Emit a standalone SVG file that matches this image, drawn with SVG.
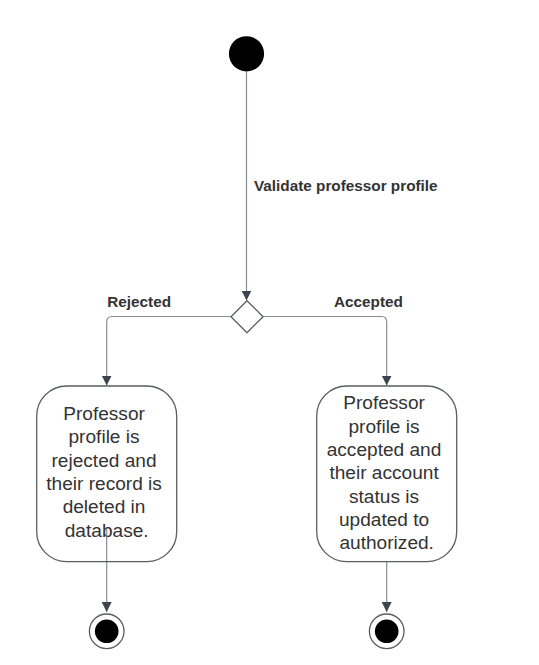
<svg xmlns="http://www.w3.org/2000/svg" width="539" height="665" viewBox="0 0 539 665">
  <style>
    .edge { fill: none; stroke: #8a8d93; stroke-width: 1.2; }
    .shape { fill: #ffffff; stroke: #5b5e63; stroke-width: 1.3; }
    .body { font-family: "Liberation Sans", Arial, sans-serif; font-size: 19.1px; fill: #333333; text-anchor: middle; }
    .label { font-family: "Liberation Sans", Arial, sans-serif; font-size: 15.3px; font-weight: bold; fill: #333333; }
  </style>
  <defs>
    <marker id="arrow" viewBox="0 0 10 14" refX="10" refY="7" markerWidth="10" markerHeight="14" markerUnits="userSpaceOnUse" orient="auto">
      <path d="M0,2 L10,7 L0,12 Z" fill="#3d4350"/>
    </marker>
  </defs>
  <rect width="539" height="665" fill="#ffffff"/>

  <!-- connectors -->
  <g id="connectors">
    <path class="edge" d="M246.5,71.5 V300.5" marker-end="url(#arrow)"/>
    <path class="edge" d="M231,316.5 H112 Q106.7,316.5 106.7,322 V385.5" marker-end="url(#arrow)"/>
    <path class="edge" d="M263,316.5 H381.5 Q386.7,316.5 386.7,322 V385.5" marker-end="url(#arrow)"/>
    <path class="edge" d="M106.7,527 V612" marker-end="url(#arrow)"/>
    <path class="edge" d="M386.7,562 V612" marker-end="url(#arrow)"/>
    <text class="label" x="254" y="190.5">Validate professor profile</text>
    <text class="label" x="107.3" y="307">Rejected</text>
    <text class="label" x="334" y="307">Accepted</text>
  </g>

  <!-- initial state -->
  <g id="start">
    <circle cx="246.5" cy="53.8" r="17.6" fill="#000000"/>
  </g>

  <!-- decision -->
  <g id="decision">
    <path class="shape" d="M247,300.7 L263,316.7 L247,332.7 L231,316.7 Z" stroke-linejoin="round"/>
  </g>

  <!-- rejected branch (transparent fill: its outgoing edge shows through) -->
  <g id="rejected">
    <rect class="shape" x="36.7" y="386" width="140" height="175.7" rx="30" ry="30" style="fill:none"/>
    <text class="body">
      <tspan x="106.7" y="420">Professor</tspan>
      <tspan x="106.7" y="443.3">profile is</tspan>
      <tspan x="106.7" y="466.6">rejected and</tspan>
      <tspan x="106.7" y="490">their record is</tspan>
      <tspan x="106.7" y="513.3">deleted in</tspan>
      <tspan x="106.7" y="536.6">database.</tspan>
    </text>
  </g>

  <!-- accepted branch -->
  <g id="accepted">
    <rect class="shape" x="316.7" y="386" width="140" height="175.7" rx="30" ry="30"/>
    <text class="body">
      <tspan x="386.7" y="409.3">Professor</tspan>
      <tspan x="386.7" y="432.6">profile is</tspan>
      <tspan x="386.7" y="456">accepted and</tspan>
      <tspan x="386.7" y="479.3">their account</tspan>
      <tspan x="386.7" y="502.6">status is</tspan>
      <tspan x="386.7" y="526">updated to</tspan>
      <tspan x="386.7" y="549.3">authorized.</tspan>
    </text>
  </g>

  <!-- final states -->
  <g id="end-rejected">
    <circle cx="106.7" cy="631.3" r="17.3" fill="#ffffff" stroke="#5b5e63" stroke-width="1.3"/>
    <circle cx="106.7" cy="631.3" r="11.8" fill="#000000"/>
  </g>
  <g id="end-accepted">
    <circle cx="386.7" cy="631.3" r="17.3" fill="#ffffff" stroke="#5b5e63" stroke-width="1.3"/>
    <circle cx="386.7" cy="631.3" r="11.8" fill="#000000"/>
  </g>
</svg>
